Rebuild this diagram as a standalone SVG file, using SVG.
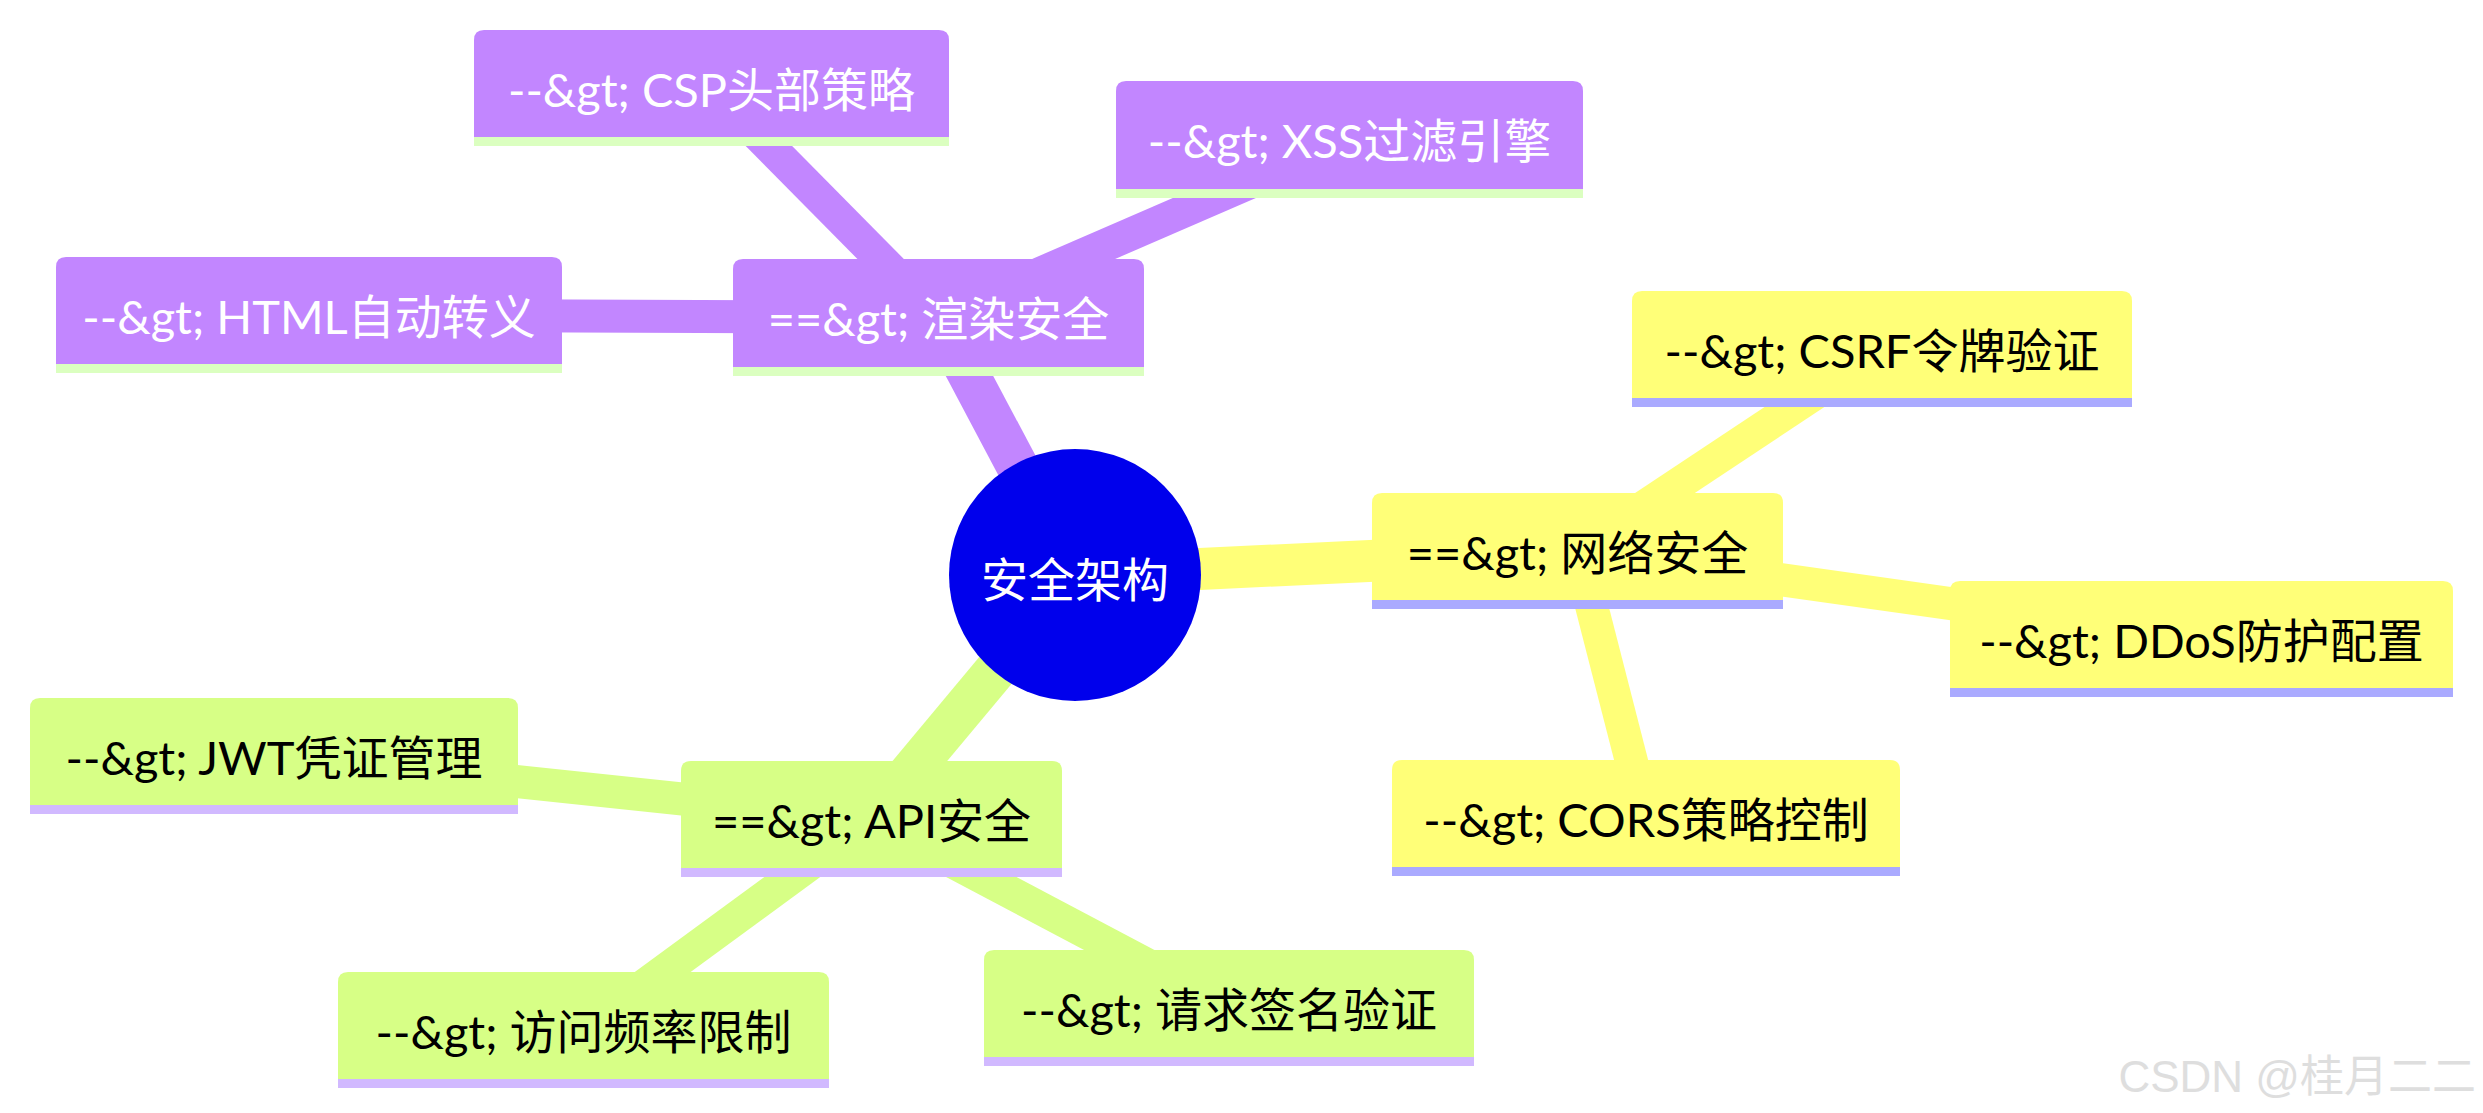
<svg xmlns="http://www.w3.org/2000/svg" width="2483" height="1113" viewBox="0 0 2483 1113">
<style>
.edge{fill:none;stroke-linecap:butt}
.d1{stroke-width:42}
.d2{stroke-width:33}
.ep{stroke:#c286ff}.ey{stroke:#ffff78}.eg{stroke:#d7ff86}
.bp{fill:#c286ff}.by{fill:#ffff78}.bg{fill:#d7ff86}
.lp{fill:#dbffc0}.ly{fill:#aaaaff}.lg{fill:#d1b9ff}
.t{font-family:Lato,"Noto Sans CJK SC",sans-serif;font-size:47px;text-anchor:middle}
.tw{fill:#ffffff}.tb{fill:#000000}
.wm{font-family:"Liberation Sans","Noto Sans CJK SC",sans-serif;font-size:44px;fill:#dedede;text-anchor:end}
</style>
<rect x="0" y="0" width="2483" height="1113" fill="#ffffff"/>
<g id="connectors">
<line class="edge d1 ep" x1="1075" y1="575" x2="938.5" y2="317.5"/>
<line class="edge d1 ey" x1="1075" y1="575" x2="1577.5" y2="551"/>
<line class="edge d1 eg" x1="1075" y1="575" x2="871.5" y2="819"/>
<line class="edge d2 ep" x1="938.5" y1="317.5" x2="711.5" y2="88"/>
<line class="edge d2 ep" x1="938.5" y1="317.5" x2="1349.5" y2="139.5"/>
<line class="edge d2 ep" x1="938.5" y1="317.5" x2="309" y2="315"/>
<line class="edge d2 ey" x1="1577.5" y1="551" x2="1882" y2="349"/>
<line class="edge d2 ey" x1="1577.5" y1="551" x2="2201.5" y2="639"/>
<line class="edge d2 ey" x1="1577.5" y1="551" x2="1646" y2="818"/>
<line class="edge d2 eg" x1="871.5" y1="819" x2="274" y2="756"/>
<line class="edge d2 eg" x1="871.5" y1="819" x2="583.5" y2="1030"/>
<line class="edge d2 eg" x1="871.5" y1="819" x2="1229" y2="1008"/>
</g>
<g id="root">
<circle cx="1075" cy="575" r="126" fill="#0000ec"/>
<text class="t tw" x="1075" y="597">安全架构</text>
</g>
<g id="render">
<path class="bp" d="M733 367V269Q733 259 743 259H1134Q1144 259 1144 269V367Z"/>
<rect class="lp" x="733" y="367" width="411" height="9"/>
<text class="t tw" x="938.5" y="336">==&amp;gt; 渲染安全</text>
</g>
<g id="csp">
<path class="bp" d="M474 137V40Q474 30 484 30H939Q949 30 949 40V137Z"/>
<rect class="lp" x="474" y="137" width="475" height="9"/>
<text class="t tw" x="711.5" y="107">--&amp;gt; CSP头部策略</text>
</g>
<g id="xss">
<path class="bp" d="M1116 189V91Q1116 81 1126 81H1573Q1583 81 1583 91V189Z"/>
<rect class="lp" x="1116" y="189" width="467" height="9"/>
<text class="t tw" x="1349.5" y="158">--&amp;gt; XSS过滤引擎</text>
</g>
<g id="html">
<path class="bp" d="M56 364V267Q56 257 66 257H552Q562 257 562 267V364Z"/>
<rect class="lp" x="56" y="364" width="506" height="9"/>
<text class="t tw" x="309" y="334">--&amp;gt; HTML自动转义</text>
</g>
<g id="network">
<path class="by" d="M1372 600V503Q1372 493 1382 493H1773Q1783 493 1783 503V600Z"/>
<rect class="ly" x="1372" y="600" width="411" height="9"/>
<text class="t tb" x="1577.5" y="570">==&amp;gt; 网络安全</text>
</g>
<g id="csrf">
<path class="by" d="M1632 398V301Q1632 291 1642 291H2122Q2132 291 2132 301V398Z"/>
<rect class="ly" x="1632" y="398" width="500" height="9"/>
<text class="t tb" x="1882" y="368">--&amp;gt; CSRF令牌验证</text>
</g>
<g id="ddos">
<path class="by" d="M1950 688V591Q1950 581 1960 581H2443Q2453 581 2453 591V688Z"/>
<rect class="ly" x="1950" y="688" width="503" height="9"/>
<text class="t tb" x="2201.5" y="658">--&amp;gt; DDoS防护配置</text>
</g>
<g id="cors">
<path class="by" d="M1392 867V770Q1392 760 1402 760H1890Q1900 760 1900 770V867Z"/>
<rect class="ly" x="1392" y="867" width="508" height="9"/>
<text class="t tb" x="1646" y="837">--&amp;gt; CORS策略控制</text>
</g>
<g id="api">
<path class="bg" d="M681 868V771Q681 761 691 761H1052Q1062 761 1062 771V868Z"/>
<rect class="lg" x="681" y="868" width="381" height="9"/>
<text class="t tb" x="871.5" y="838">==&amp;gt; API安全</text>
</g>
<g id="jwt">
<path class="bg" d="M30 805V708Q30 698 40 698H508Q518 698 518 708V805Z"/>
<rect class="lg" x="30" y="805" width="488" height="9"/>
<text class="t tb" x="274" y="775">--&amp;gt; JWT凭证管理</text>
</g>
<g id="ratelimit">
<path class="bg" d="M338 1079V982Q338 972 348 972H819Q829 972 829 982V1079Z"/>
<rect class="lg" x="338" y="1079" width="491" height="9"/>
<text class="t tb" x="583.5" y="1049">--&amp;gt; 访问频率限制</text>
</g>
<g id="signature">
<path class="bg" d="M984 1057V960Q984 950 994 950H1464Q1474 950 1474 960V1057Z"/>
<rect class="lg" x="984" y="1057" width="490" height="9"/>
<text class="t tb" x="1229" y="1027">--&amp;gt; 请求签名验证</text>
</g>
<text class="wm" x="2476" y="1092">CSDN @桂月二二</text>
</svg>
